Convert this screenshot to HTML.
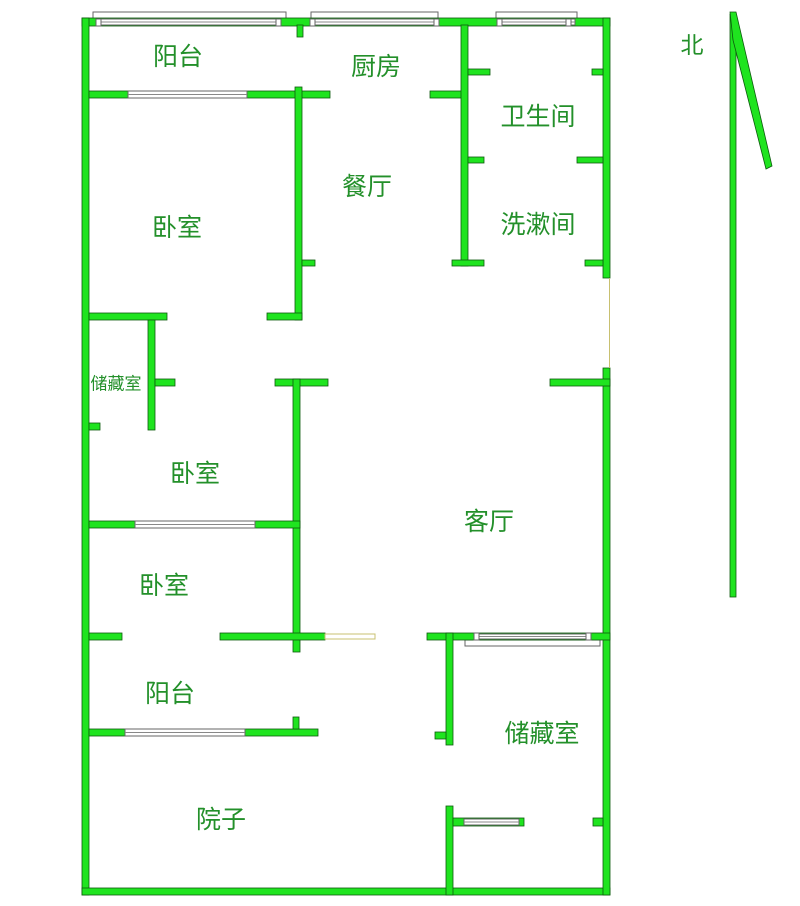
<!DOCTYPE html>
<html><head><meta charset="utf-8"><style>
body{margin:0;background:#fff}
svg{display:block}
text{font-family:"Liberation Sans","Noto Sans CJK SC",sans-serif;fill:#23902a;text-anchor:middle;dominant-baseline:central}
.w{fill:#1fe41f;stroke:#0d5a0d;stroke-width:0.8}
.win{fill:#fff;stroke:#666;stroke-width:1}
</style></head><body>
<svg width="800" height="906" viewBox="0 0 800 906" xmlns="http://www.w3.org/2000/svg">
<rect class="win" x="93" y="12" width="193" height="7"/>
<rect class="win" x="311" y="12" width="127" height="7"/>
<rect class="win" x="496" y="12" width="81" height="7"/>
<rect class="w" x="82" y="18" width="528" height="8"/>
<rect class="win" x="100" y="19" width="180" height="6"/>
<line x1="100" y1="22" x2="280" y2="22" stroke="#888"/>
<rect class="win" x="314" y="19" width="124" height="6"/>
<line x1="314" y1="22" x2="438" y2="22" stroke="#888"/>
<rect class="win" x="501" y="19" width="74" height="6"/>
<line x1="501" y1="22" x2="575" y2="22" stroke="#888"/>
<rect class="win" x="96" y="19" width="5" height="7"/><rect class="win" x="276" y="19" width="5" height="7"/>
<rect class="win" x="310" y="19" width="5" height="7"/><rect class="win" x="434" y="19" width="5" height="7"/>
<rect class="win" x="497" y="19" width="5" height="7"/><rect class="win" x="566" y="19" width="5" height="7"/>
<rect class="w" x="297" y="25" width="6" height="12"/>
<rect class="w" x="82" y="18" width="7" height="877"/>
<rect class="w" x="82" y="888" width="528" height="7"/>
<rect class="w" x="603" y="18" width="7" height="260"/>
<rect class="w" x="603" y="368" width="7" height="527"/>
<line x1="609.5" y1="278" x2="609.5" y2="368" stroke="#c8c070" stroke-width="1"/>
<rect class="w" x="89" y="91" width="241" height="7"/>
<rect class="win" x="128" y="91" width="119" height="7"/>
<line x1="128" y1="94.5" x2="247" y2="94.5" stroke="#888"/>
<rect class="w" x="295" y="87" width="7" height="233"/>
<rect class="w" x="302" y="260" width="13" height="6"/>
<rect class="w" x="89" y="313" width="78" height="7"/>
<rect class="w" x="267" y="313" width="35" height="7"/>
<rect class="w" x="430" y="91" width="35" height="7"/>
<rect class="w" x="461" y="25" width="7" height="241"/>
<rect class="w" x="468" y="69" width="22" height="6"/>
<rect class="w" x="468" y="157" width="16" height="6"/>
<rect class="w" x="452" y="260" width="32" height="6"/>
<rect class="w" x="592" y="69" width="11" height="6"/>
<rect class="w" x="577" y="157" width="26" height="6"/>
<rect class="w" x="585" y="260" width="18" height="6"/>
<rect class="w" x="148" y="320" width="7" height="110"/>
<rect class="w" x="155" y="379" width="20" height="7"/>
<rect class="w" x="89" y="423" width="11" height="7"/>
<rect class="w" x="275" y="379" width="53" height="7"/>
<rect class="w" x="293" y="379" width="7" height="273"/>
<rect class="w" x="550" y="379" width="60" height="7"/>
<rect class="w" x="89" y="521" width="211" height="7"/>
<rect class="win" x="135" y="521" width="120" height="7"/>
<line x1="135" y1="524.5" x2="255" y2="524.5" stroke="#888"/>
<rect class="w" x="89" y="633" width="33" height="7"/>
<rect class="w" x="220" y="633" width="105" height="7"/>
<rect x="325" y="634" width="50" height="5" fill="#fff" stroke="#c8c070"/>
<rect class="win" x="465" y="640" width="135" height="6"/>
<rect class="w" x="427" y="633" width="183" height="7"/>
<rect class="win" x="478" y="634" width="110" height="5"/>
<line x1="478" y1="636.5" x2="588" y2="636.5" stroke="#888"/>
<rect class="win" x="474" y="633" width="5" height="7"/><rect class="win" x="586" y="633" width="5" height="7"/>
<rect class="w" x="446" y="633" width="7" height="112"/>
<rect class="w" x="435" y="732" width="11" height="7"/>
<rect class="w" x="89" y="729" width="229" height="7"/>
<rect class="win" x="125" y="729" width="120" height="7"/>
<line x1="125" y1="732.5" x2="245" y2="732.5" stroke="#888"/>
<rect class="w" x="293" y="717" width="6" height="12"/>
<rect class="w" x="446" y="806" width="7" height="89"/>
<rect class="w" x="453" y="818" width="71" height="8"/>
<rect class="win" x="464" y="819" width="55" height="6"/>
<line x1="464" y1="822" x2="519" y2="822" stroke="#888"/>
<rect class="w" x="593" y="818" width="10" height="8"/>
<rect class="w" x="730" y="14" width="6" height="583"/>
<polygon class="w" points="730,12 736,12 772,166 766,169 733,40"/>
<text x="692" y="45" font-size="23">北</text>
<text x="178" y="57" font-size="25">阳台</text>
<text x="376" y="67" font-size="25">厨房</text>
<text x="538" y="117" font-size="25">卫生间</text>
<text x="367" y="187" font-size="25">餐厅</text>
<text x="538" y="225" font-size="25">洗漱间</text>
<text x="177" y="228" font-size="25">卧室</text>
<text x="116" y="384" font-size="17">储藏室</text>
<text x="195" y="474" font-size="25">卧室</text>
<text x="489" y="522" font-size="25">客厅</text>
<text x="164" y="586" font-size="25">卧室</text>
<text x="170" y="694" font-size="25">阳台</text>
<text x="542" y="734" font-size="25">储藏室</text>
<text x="221" y="820" font-size="25">院子</text>
</svg>
</body></html>
